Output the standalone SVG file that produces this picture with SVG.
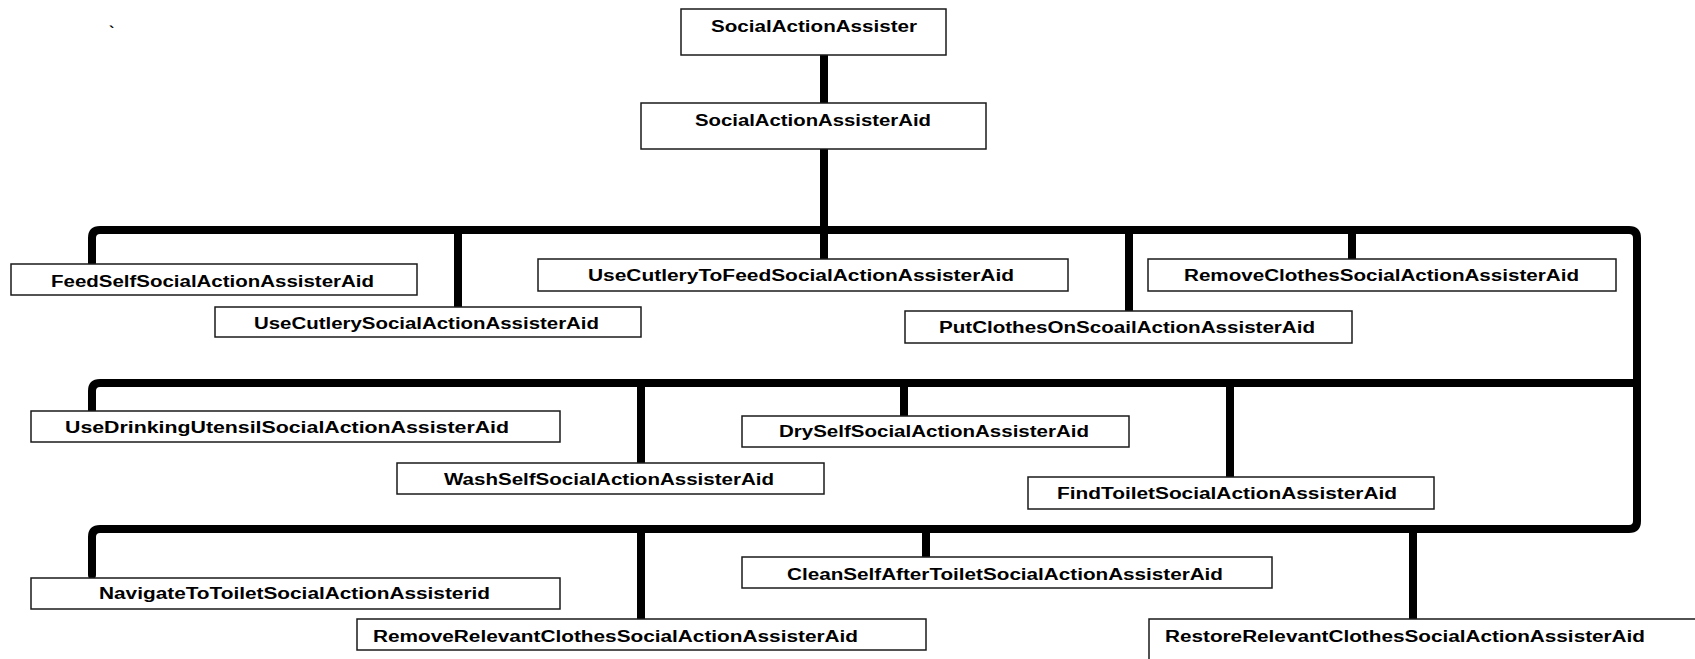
<svg xmlns="http://www.w3.org/2000/svg" width="1695" height="659" viewBox="0 0 1695 659">
<style>
.box{fill:#fff;stroke:#1a1a1a;stroke-width:1.5}
.lbl{font-family:"Liberation Sans",Arial,sans-serif;font-weight:bold;font-size:16px;fill:#000}
.conn{fill:none;stroke:#000;stroke-width:8;stroke-linecap:round;stroke-linejoin:round}
</style>
<rect width="1695" height="659" fill="#fff"/>
<text class="lbl" x="109" y="38">`</text>
<g id="connectors">
<path class="conn" d="M824 55 V103"/>
<path class="conn" d="M824 149 V230"/>
<path class="conn" d="M92 263 V238 Q92 230 100 230 H1629 Q1637 230 1637 238 V521 Q1637 529 1629 529 H100 Q92 529 92 537 V575"/>
<path class="conn" d="M92 411 V391 Q92 383 100 383 H1637"/>
<path class="conn" d="M458 230 V307"/>
<path class="conn" d="M824 230 V259"/>
<path class="conn" d="M1129 230 V310"/>
<path class="conn" d="M1352 230 V259"/>
<path class="conn" d="M641 383 V462"/>
<path class="conn" d="M904 383 V415"/>
<path class="conn" d="M1230 383 V476"/>
<path class="conn" d="M641 529 V618"/>
<path class="conn" d="M926 529 V556"/>
<path class="conn" d="M1413 529 V618"/>
</g>
<g id="n1"><rect class="box" x="681" y="9" width="265" height="46"/><text class="lbl" x="711" y="32" textLength="206" lengthAdjust="spacingAndGlyphs">SocialActionAssister</text></g>
<g id="n2"><rect class="box" x="641" y="103" width="345" height="46"/><text class="lbl" x="695" y="126" textLength="236" lengthAdjust="spacingAndGlyphs">SocialActionAssisterAid</text></g>
<g id="n3"><rect class="box" x="11" y="264" width="406" height="31"/><text class="lbl" x="51" y="287" textLength="323" lengthAdjust="spacingAndGlyphs">FeedSelfSocialActionAssisterAid</text></g>
<g id="n4"><rect class="box" x="215" y="307" width="426" height="30"/><text class="lbl" x="254" y="329" textLength="345" lengthAdjust="spacingAndGlyphs">UseCutlerySocialActionAssisterAid</text></g>
<g id="n5"><rect class="box" x="538" y="259" width="530" height="32"/><text class="lbl" x="588" y="281" textLength="426" lengthAdjust="spacingAndGlyphs">UseCutleryToFeedSocialActionAssisterAid</text></g>
<g id="n6"><rect class="box" x="905" y="311" width="447" height="32"/><text class="lbl" x="939" y="333" textLength="376" lengthAdjust="spacingAndGlyphs">PutClothesOnScoailActionAssisterAid</text></g>
<g id="n7"><rect class="box" x="1148" y="259" width="468" height="32"/><text class="lbl" x="1184" y="281" textLength="395" lengthAdjust="spacingAndGlyphs">RemoveClothesSocialActionAssisterAid</text></g>
<g id="n8"><rect class="box" x="31" y="411" width="529" height="31"/><text class="lbl" x="65" y="433" textLength="444" lengthAdjust="spacingAndGlyphs">UseDrinkingUtensilSocialActionAssisterAid</text></g>
<g id="n9"><rect class="box" x="397" y="463" width="427" height="31"/><text class="lbl" x="444" y="485" textLength="330" lengthAdjust="spacingAndGlyphs">WashSelfSocialActionAssisterAid</text></g>
<g id="n10"><rect class="box" x="742" y="416" width="387" height="31"/><text class="lbl" x="779" y="437" textLength="310" lengthAdjust="spacingAndGlyphs">DrySelfSocialActionAssisterAid</text></g>
<g id="n11"><rect class="box" x="1028" y="477" width="406" height="32"/><text class="lbl" x="1057" y="499" textLength="340" lengthAdjust="spacingAndGlyphs">FindToiletSocialActionAssisterAid</text></g>
<g id="n12"><rect class="box" x="31" y="578" width="529" height="31"/><text class="lbl" x="99" y="599" textLength="391" lengthAdjust="spacingAndGlyphs">NavigateToToiletSocialActionAssisterid</text></g>
<g id="n13"><rect class="box" x="357" y="619" width="569" height="31"/><text class="lbl" x="373" y="642" textLength="485" lengthAdjust="spacingAndGlyphs">RemoveRelevantClothesSocialActionAssisterAid</text></g>
<g id="n14"><rect class="box" x="742" y="557" width="530" height="31"/><text class="lbl" x="787" y="580" textLength="436" lengthAdjust="spacingAndGlyphs">CleanSelfAfterToiletSocialActionAssisterAid</text></g>
<g id="n15"><rect class="box" x="1149" y="619" width="600" height="100"/><text class="lbl" x="1165" y="642" textLength="480" lengthAdjust="spacingAndGlyphs">RestoreRelevantClothesSocialActionAssisterAid</text></g>
</svg>
